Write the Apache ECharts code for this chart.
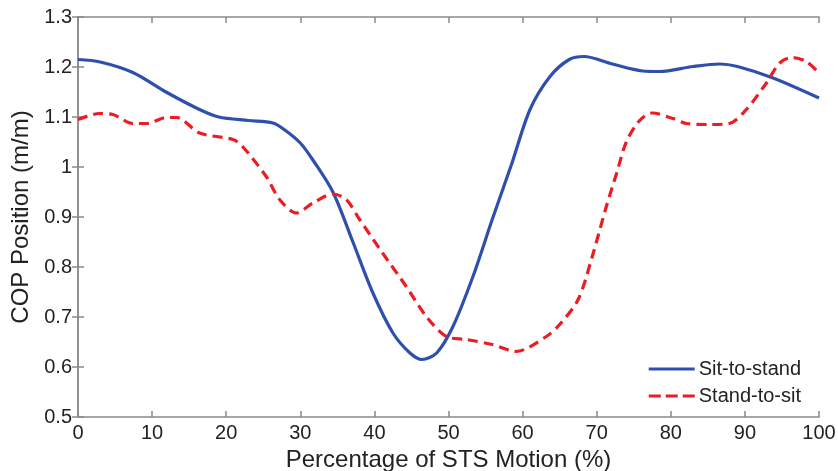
<!DOCTYPE html>
<html lang="en">
<head>
  <meta charset="UTF-8">
  <title>COP Position</title>
  <style>
    html, body { margin: 0; padding: 0; background: #fff; }
    #main { width: 838px; height: 471px; }
  </style>
</head>
<body>
  <div id="main"></div>
</body>
<script src="https://cdn.jsdelivr.net/npm/echarts@6/dist/echarts.min.js"></script>
<script>
  const chart = echarts.init(document.getElementById('main'));

  // sit-to-stand (blue, solid)
  const sitX = [0, 3, 7.4, 12, 16.4, 19, 23, 26.3, 28, 30, 31.7, 34.4, 37.1, 39.8, 42.5, 44.8, 46.4, 48.4, 50.6, 53.3, 55.9, 58.5, 61, 63.7, 66.3, 68.3, 72.1, 76.2, 78.5, 83, 86.6, 89, 93.8, 100];
  const sitY = [1.215, 1.21, 1.189, 1.149, 1.115, 1.1, 1.093, 1.088, 1.073, 1.048, 1.014, 0.95, 0.85, 0.748, 0.668, 0.628, 0.615, 0.628, 0.681, 0.781, 0.895, 1.005, 1.115, 1.181, 1.215, 1.221, 1.206, 1.192, 1.191, 1.201, 1.206, 1.201, 1.178, 1.138];

  // stand-to-sit (red, dashed)
  const standX = [0, 2.9, 4.7, 7.4, 9.3, 11.9, 13.3, 16.4, 20.9, 22.2, 25.4, 27.2, 29.5, 31.7, 34.4, 36.2, 38, 41.1, 44.3, 47, 49.7, 52.4, 55.9, 59.1, 63.2, 65, 67.5, 69.4, 71.3, 72.7, 74, 75.8, 77.5, 80.3, 82.1, 85.2, 87.9, 90.2, 92.9, 94.7, 96.4, 98.3, 100];
  const standY = [1.095, 1.107, 1.105, 1.087, 1.087, 1.099, 1.099, 1.068, 1.055, 1.041, 0.981, 0.935, 0.908, 0.928, 0.946, 0.935, 0.895, 0.828, 0.761, 0.701, 0.661, 0.655, 0.645, 0.631, 0.661, 0.685, 0.735, 0.821, 0.921, 0.988, 1.05, 1.093, 1.108, 1.097, 1.087, 1.085, 1.087, 1.115, 1.168, 1.208, 1.219, 1.211, 1.188];

  const pairs = (xs, ys) => xs.map((x, i) => [x, ys[i]]);

  const blue = '#2f4fae';
  const red = '#ec1c24';
  const axisGray = '#8a8a8a';
  const textCol = '#222';
  const font = 'Liberation Sans, Arial, sans-serif';

  const mirror = {
    axisLine: { show: true, lineStyle: { color: axisGray, width: 1.5 } },
    axisTick: { show: true, inside: true, length: 6, lineStyle: { color: axisGray, width: 1.5 } },
    axisLabel: { show: false },
    splitLine: { show: false }
  };

  chart.setOption({
    animation: false,
    textStyle: { fontFamily: font },
    grid: { left: 78, right: 19, top: 17, bottom: 54, outerBoundsMode: 'none' },
    legend: {
      orient: 'vertical',
      right: 32,
      top: 354,
      itemWidth: 46,
      itemHeight: 3,
      itemGap: 7,
      textStyle: { fontSize: 20, lineHeight: 20, color: textCol, fontFamily: font, padding: [0, 0, 0, -1] },
      data: [
        { name: 'Sit-to-stand', icon: 'rect', itemStyle: { color: blue } },
        { name: 'Stand-to-sit', icon: 'path://M0,0h12v3h-12z M17,0h12v3h-12z M34,0h12v3h-12z', itemStyle: { color: red } }
      ]
    },
    xAxis: [{
      type: 'value', min: 0, max: 100, interval: 10,
      name: 'Percentage of STS Motion (%)',
      nameLocation: 'middle', nameGap: 31,
      nameTextStyle: { fontSize: 24, color: textCol, fontFamily: font },
      axisLine: { show: true, lineStyle: { color: axisGray, width: 1.5 } },
      axisTick: { show: true, inside: true, length: 6, lineStyle: { color: axisGray, width: 1.5 } },
      axisLabel: { fontSize: 20, color: textCol, margin: 6, fontFamily: font },
      splitLine: { show: false }
    }, Object.assign({ type: 'value', min: 0, max: 100, interval: 10, position: 'top' }, mirror)],
    yAxis: [{
      type: 'value', min: 0.5, max: 1.3, interval: 0.1,
      name: 'COP Position (m/m)',
      nameLocation: 'middle', nameGap: 43,
      nameTextStyle: { fontSize: 24, color: textCol, fontFamily: font },
      axisLine: { show: true, lineStyle: { color: axisGray, width: 1.5 } },
      axisTick: { show: true, inside: true, length: 6, lineStyle: { color: axisGray, width: 1.5 } },
      axisLabel: { fontSize: 20, color: textCol, margin: 6, fontFamily: font,
        formatter: v => String(Math.round(v * 10) / 10) },
      splitLine: { show: false }
    }, Object.assign({ type: 'value', min: 0.5, max: 1.3, interval: 0.1, position: 'right' }, mirror)],
    series: [{
      name: 'Sit-to-stand',
      type: 'line',
      smooth: 0.3,
      symbol: 'none',
      lineStyle: { color: blue, width: 3.2 },
      itemStyle: { color: blue },
      data: pairs(sitX, sitY)
    }, {
      name: 'Stand-to-sit',
      type: 'line',
      smooth: 0.3,
      symbol: 'none',
      lineStyle: { color: red, width: 3.2, type: [10, 6] },
      itemStyle: { color: red },
      data: pairs(standX, standY)
    }]
  });
</script>
</html>
